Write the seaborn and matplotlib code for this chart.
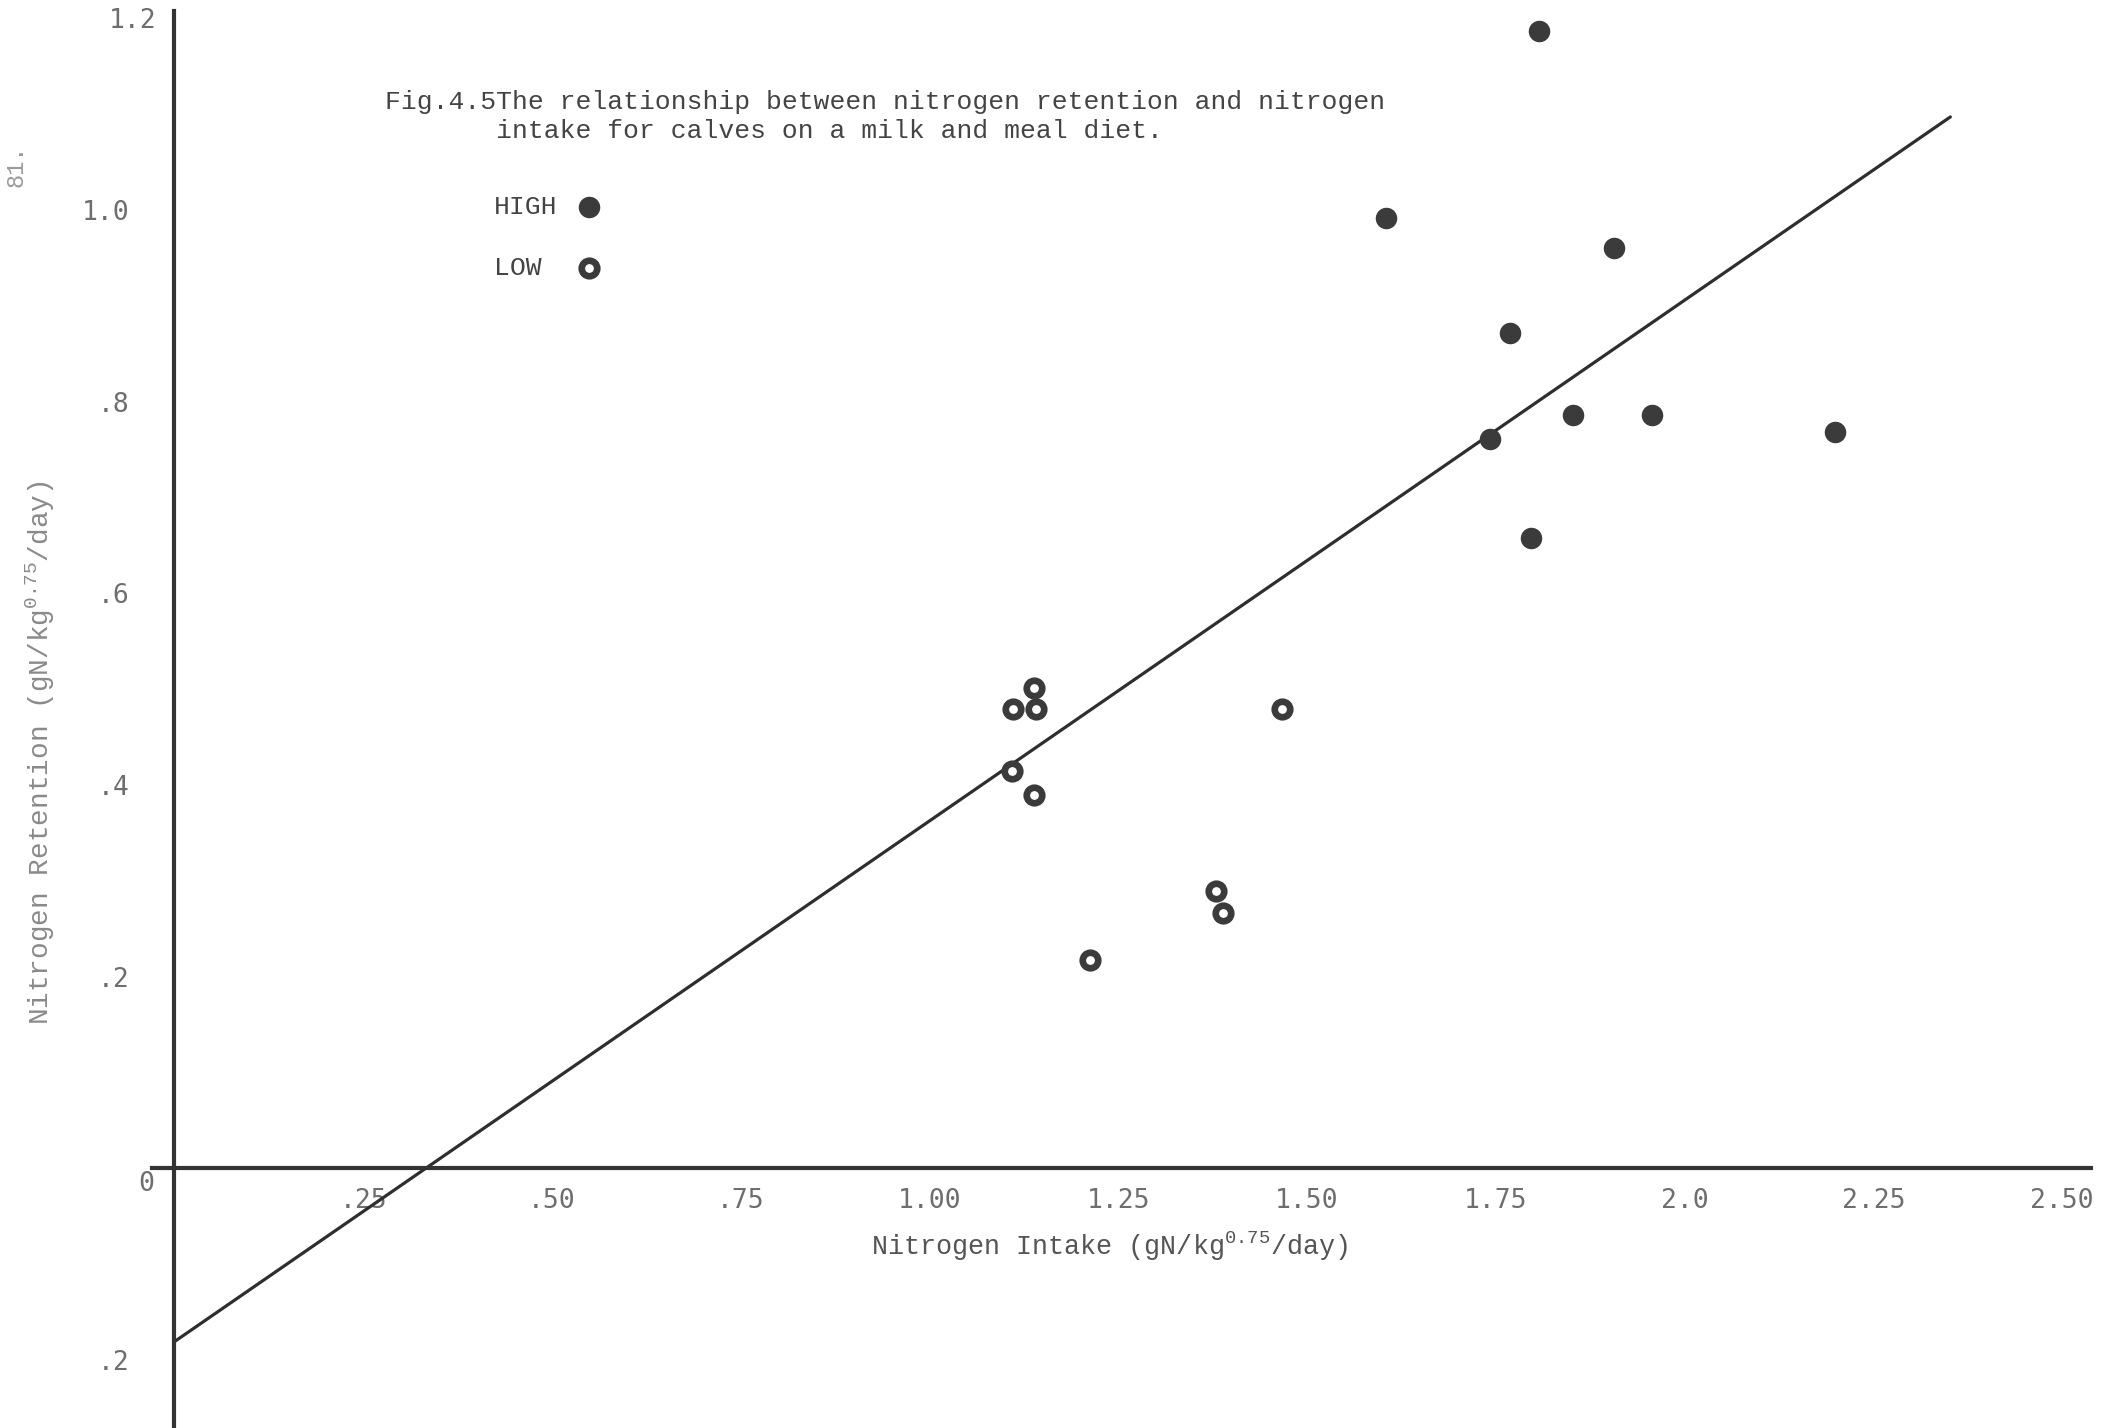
import matplotlib
matplotlib.use('Agg')
import matplotlib.pyplot as plt
import seaborn as sns
import pandas as pd

# values (Fig. 4.5)
high_x = [1.605, 1.807, 1.907, 1.769, 1.742, 1.852, 1.957, 2.199, 1.796]
high_y = [0.992, 1.187, 0.960, 0.872, 0.761, 0.786, 0.786, 0.768, 0.658]
low_x = [1.109, 1.111, 1.138, 1.141, 1.138, 1.213, 1.380, 1.389, 1.467]
low_y = [0.415, 0.479, 0.501, 0.479, 0.389, 0.217, 0.289, 0.266, 0.479]

# hand drawn regression line, end points
fit_x = [0.0, 2.352]
fit_y = [-0.181, 1.097]

xtick_pos = [0.25, 0.50, 0.75, 1.00, 1.25, 1.50, 1.75, 2.00, 2.25, 2.50]
xtick_lab = ['.25', '.50', '.75', '1.00', '1.25', '1.50', '1.75', '2.0', '2.25', '2.50']
ytick_pos = [-0.2, 0.2, 0.4, 0.6, 0.8, 1.0]
ytick_lab = ['.2', '.2', '.4', '.6', '.8', '1.0']
ytop = 1.2  # top label, no tick mark on the original

high = pd.DataFrame({'intake': high_x, 'retention': high_y})
low = pd.DataFrame({'intake': low_x, 'retention': low_y})

sns.set_style('white')
plt.rcParams['font.family'] = ['Liberation Mono', 'DejaVu Sans Mono']
plt.rcParams['mathtext.fontset'] = 'custom'
plt.rcParams['mathtext.rm'] = 'Liberation Mono'

ink = '#333333'
tick_grey = '#6e6e6e'

fig = plt.figure(figsize=(21.18, 14.28), dpi=100)
ax = fig.add_axes([0, 0, 1, 1])

sns.lineplot(x=fit_x, y=fit_y, ax=ax, color='#2e2e2e', linewidth=2.3)
sns.scatterplot(data=high, x='intake', y='retention', ax=ax, marker='o',
                s=240, color='#3b3b3b', edgecolor='#3b3b3b', linewidth=0,
                label='HIGH', zorder=5)
sns.scatterplot(data=low, x='intake', y='retention', ax=ax, marker='o',
                s=125, facecolor='white', edgecolor='#3b3b3b', linewidth=4.8,
                label='LOW ', zorder=5)

ax.set_xlim(-0.2308, 2.574)
ax.set_ylim(-0.271, 1.219)

for s in ['top', 'right']:
    ax.spines[s].set_visible(False)
ax.spines['left'].set_position(('data', 0))
ax.spines['bottom'].set_position(('data', 0))
ax.spines['left'].set_bounds(-0.271, 1.208)
ax.spines['bottom'].set_bounds(-0.029, 2.538)
for s in ['left', 'bottom']:
    ax.spines[s].set_linewidth(3)
    ax.spines[s].set_color(ink)

ax.set_xticks(xtick_pos)
ax.set_xticklabels(xtick_lab)
ax.set_yticks(ytick_pos)
ax.set_yticklabels(ytick_lab)
ax.tick_params(axis='x', direction='out', length=11, width=2, pad=3,
               labelsize=19, labelcolor=tick_grey, color=ink)
ax.tick_params(axis='y', direction='out', length=15, width=2.2, pad=17,
               labelsize=19, labelcolor=tick_grey, color=ink)
for lab in ax.get_xticklabels() + ax.get_yticklabels():
    lab.set_fontfamily('DejaVu Sans Mono')

ax.text(-0.024, ytop, '1.2', ha='right', va='center_baseline', fontsize=19,
        color=tick_grey, family='DejaVu Sans Mono')
ax.text(-0.037, -0.0164, '0', ha='center', va='center', fontsize=19,
        color=tick_grey, family='DejaVu Sans Mono')

ax.set_xlabel(r'Nitrogen Intake (gN/kg$\mathregular{^{0.75}}$/day)',
              fontsize=19.3, color='#555555', va='center')
ax.xaxis.set_label_coords(0.5236, 0.127)
ax.set_ylabel(r'Nitrogen Retention (gN/kg$\mathregular{^{0.75}}$/day)',
              fontsize=20, color='#8a8a8a', va='center')
ax.yaxis.set_label_coords(0.019, 0.4727)

fig.text(0.1818, 1 - 116.7 / 1428,
         'Fig.4.5The relationship between nitrogen retention and nitrogen\n'
         '       intake for calves on a milk and meal diet.',
         fontsize=19, color='#444444', va='center', ha='left', linespacing=1.28)
fig.text(0.0076, 1 - 166 / 1428, '81.', rotation=90, fontsize=17,
         color='#9a9a9a', va='center', ha='center')

leg = ax.legend(loc='upper left', bbox_to_anchor=(0.2332, 0.8634),
                bbox_transform=fig.transFigure, frameon=False, markerfirst=False,
                borderpad=0, borderaxespad=0, handlelength=0.6,
                handletextpad=0.9, labelspacing=1.4,
                prop={'family': 'Liberation Mono', 'size': 19})
for t in leg.get_texts():
    t.set_color('#444444')

fig.savefig('out.png', dpi=100)
